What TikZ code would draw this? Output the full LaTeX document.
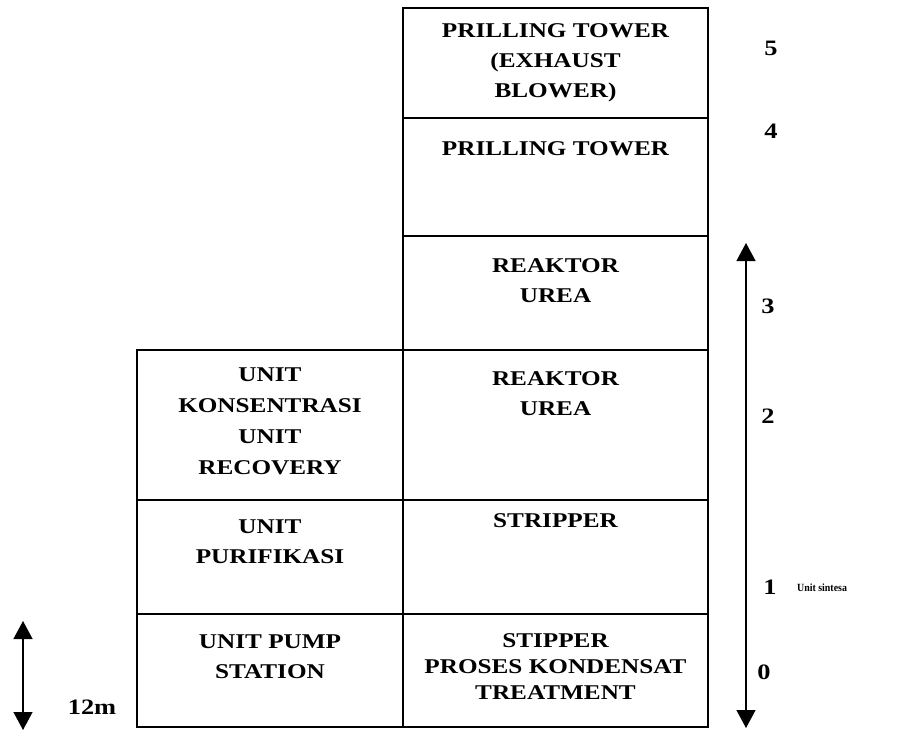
\documentclass[tikz,border=0pt]{standalone}
\usepackage{fontspec}
\setmainfont{Liberation Serif}[FakeStretch=1.2]
\newfontfamily\condfont{Liberation Serif}[FakeStretch=0.9]
\usetikzlibrary{arrows.meta}
\begin{document}
\begin{tikzpicture}[x=1pt,y=-1pt,
  box/.style={draw,line width=1.6pt,inner sep=0pt},
  lbl/.style={font=\fontsize{21}{30}\selectfont\bfseries,align=center,anchor=north,inner sep=0pt},
  num/.style={font=\fontsize{22}{24}\selectfont\bfseries,inner sep=0pt},
  small/.style={font=\condfont\fontsize{11}{13}\selectfont\bfseries,inner sep=0pt},
  dimarrow/.style={line width=1.3pt,{Triangle[length=18pt,width=19pt]}-{Triangle[length=18pt,width=19pt]}}]
\useasboundingbox (0,0) rectangle (904,730);
% right column
\node[box,minimum width=305pt,minimum height=110pt] (r5) at (555.5,63) {};
\node[box,minimum width=305pt,minimum height=118pt] (r4) at (555.5,177) {};
\node[box,minimum width=305pt,minimum height=114pt] (r3) at (555.5,293) {};
\node[box,minimum width=305pt,minimum height=150pt] (r2) at (555.5,425) {};
\node[box,minimum width=305pt,minimum height=114pt] (r1) at (555.5,557) {};
\node[box,minimum width=305pt,minimum height=113pt] (r0) at (555.5,670.5) {};
% left column
\node[box,minimum width=266pt,minimum height=150pt] (l2) at (270,425) {};
\node[box,minimum width=266pt,minimum height=114pt] (l1) at (270,557) {};
\node[box,minimum width=266pt,minimum height=113pt] (l0) at (270,670.5) {};
% labels
\node[lbl] (t5) at (555.5,23) {PRILLING TOWER\\(EXHAUST\\BLOWER)};
\node[lbl] (t4) at (555.5,141) {PRILLING TOWER};
\node[lbl] (t3) at (555.5,258) {REAKTOR\\UREA};
\node[lbl] (t2) at (555.5,371) {REAKTOR\\UREA};
\node[lbl] (t1) at (555.5,513) {STRIPPER};
\node[lbl,font=\fontsize{21}{26}\selectfont\bfseries] (t0) at (555.5,633) {STIPPER\\PROSES KONDENSAT\\TREATMENT};
\node[lbl,font=\fontsize{21}{31}\selectfont\bfseries] (u2) at (270,368) {UNIT\\KONSENTRASI\\UNIT\\RECOVERY};
\node[lbl] (u1) at (270,520) {UNIT\\PURIFIKASI};
\node[lbl] (u0) at (270,635) {UNIT PUMP\\STATION};
% level numbers
\node[num] (n5) at (771,48) {5};
\node[num] (n4) at (771,131) {4};
\node[num] (n3) at (768,306) {3};
\node[num] (n2) at (768,416) {2};
\node[num] (n1) at (770,587) {1};
\node[num] (n0) at (764,672) {0};
\node[small,anchor=west] (us) at (797,588) {Unit sintesa};
\node[num] (m12) at (92,707) {12m};
% dimension arrows
\coordinate (a1) at (746,243);
\coordinate (a2) at (746,728);
\draw[dimarrow] (a1) -- (a2);
\coordinate (b1) at (23,621);
\coordinate (b2) at (23,730);
\draw[dimarrow] (b1) -- (b2);
\end{tikzpicture}
\end{document}
